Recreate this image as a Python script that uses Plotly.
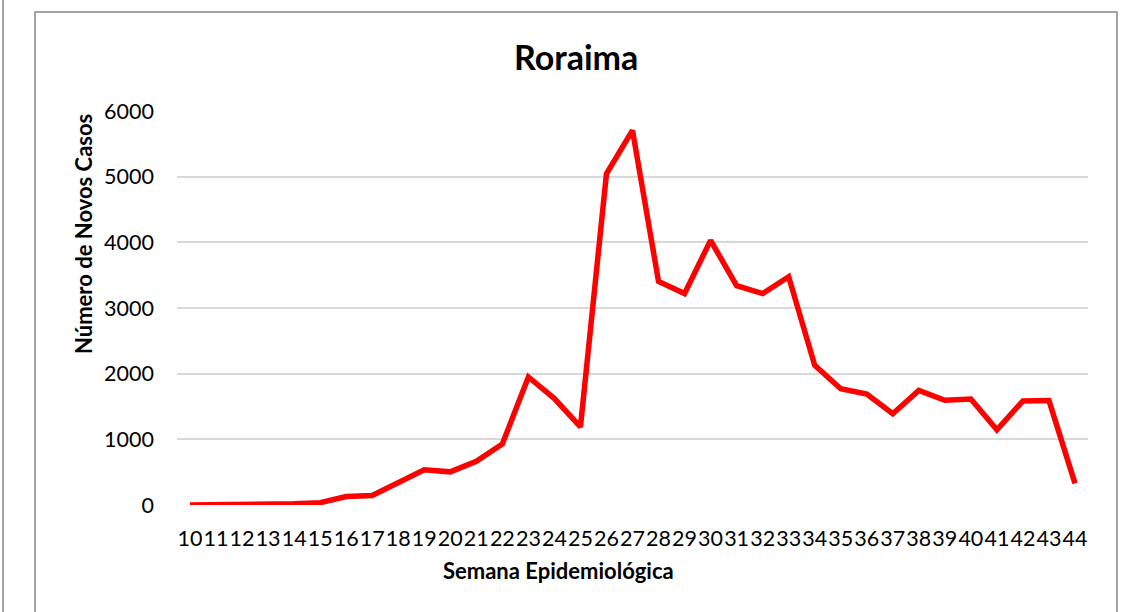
import plotly.graph_objects as go

semanas = [str(s) for s in range(10, 45)]
casos = [0, 0, 5, 10, 20, 35, 130, 145, 330, 535, 505, 665, 930, 1950, 1620, 1190,
         5045, 5705, 3405, 3220, 4030, 3340, 3220, 3475, 2127, 1770, 1690, 1390,
         1745, 1595, 1615, 1145, 1585, 1590, 330]
y_ticks = [0, 1000, 2000, 3000, 4000, 5000, 6000]

FONT = "Lato"

fig = go.Figure()
fig.add_trace(go.Scatter(
    x=semanas, y=casos, mode="lines",
    line=dict(color="#ff0000", width=5.5),
    showlegend=False, hoverinfo="x+y",
))

L, R, T, B = 177, 35, 111, 107
W, H = 1123, 612
pw, ph = W - L - R, H - T - B

def px(x):
    return (x - L) / pw

def py(y):
    return (H - B - y) / ph

fig.update_layout(
    width=W, height=H,
    margin=dict(l=L, r=R, t=T, b=B),
    paper_bgcolor="white", plot_bgcolor="white",
    font=dict(family=FONT, color="#000000"),
    xaxis=dict(
        type="category", range=[-0.5, 34.5],
        showgrid=False, zeroline=False, showline=False,
        tickangle=0, tickfont=dict(size=21.5, family=FONT),
        ticks="", ticklabelstandoff=18,
    ),
    yaxis=dict(
        range=[0, 6000], tickvals=y_ticks,
        showgrid=True, gridcolor="#d9d9d9", gridwidth=1.5,
        zeroline=False, showline=False,
        tickfont=dict(size=21.5, family=FONT),
        ticks="", ticklabelstandoff=22,
    ),
    shapes=[
        dict(type="rect", xref="paper", yref="paper",
             x0=px(35), x1=px(1117), y0=py(660), y1=py(12),
             line=dict(color="#878787", width=1.5), layer="below"),
        dict(type="line", xref="paper", yref="paper",
             x0=px(3), x1=px(3), y0=py(660), y1=py(-10),
             line=dict(color="#878787", width=1.5), layer="below"),
    ],
    annotations=[
        dict(text="<b>Roraima</b>", xref="paper", yref="paper",
             x=px(576), y=py(57), showarrow=False,
             font=dict(size=34, family=FONT), xanchor="center", yanchor="middle"),
        dict(text="<b>Semana Epidemiológica</b>", xref="paper", yref="paper",
             x=px(558), y=py(570), showarrow=False,
             font=dict(size=22, family=FONT), xanchor="center", yanchor="middle"),
        dict(text="<b>Número de Novos Casos</b>", xref="paper", yref="paper",
             x=px(83), y=py(234), showarrow=False, textangle=-90,
             font=dict(size=22, family=FONT), xanchor="center", yanchor="middle"),
    ],
)

fig.write_html("out.html", config={"displayModeBar": False},
               post_script="document.body.style.margin='0';")
